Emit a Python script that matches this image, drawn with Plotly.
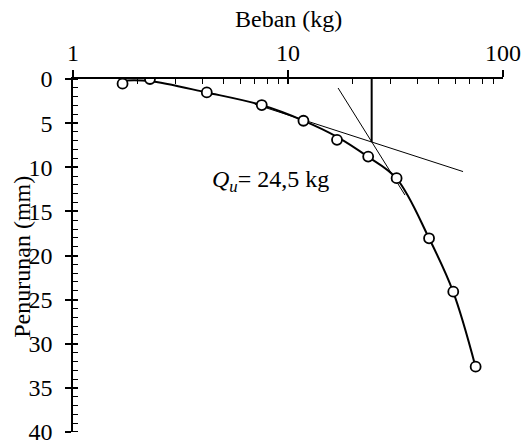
import plotly.graph_objects as go

# Load test readings: load (kg) and settlement (mm)
load_kg = [1.70, 2.28, 4.19, 7.55, 11.8, 16.9, 23.6, 32.0, 45.3, 58.7, 74.6]
settlement_mm = [0.53, 0.0, 1.52, 2.95, 4.73, 6.89, 8.79, 11.24, 18.05, 24.1, 32.6]

# Fitted load-settlement trend
trend_load = [1.77, 2.27, 4.17, 7.51, 11.7, 16.9, 23.5, 31.9, 45.3, 58.6, 74.5]
trend_settle = [0.16, 0.23, 1.52, 2.95, 4.68, 6.55, 8.79, 11.24, 18.05, 24.1, 32.6]

# Tangent to the initial branch and tangent to the failure branch
tan1_load = [7.0, 65.2]
tan1_settle = [2.85, 10.49]
tan2_load = [17.1, 35.0]
tan2_settle = [1.02, 13.15]

# Ultimate load from the tangent intersection
qu_load = 24.5
qu_settle = 7.15

x_major = [1, 10, 100]
x_major_text = ["1", "10", "100"]
x_minor = [2, 3, 4, 5, 6, 7, 8, 9, 20, 30, 40, 50, 60, 70, 80, 90]
y_major = [0, 5, 10, 15, 20, 25, 30, 35, 40]

FONT = "Liberation Serif, Times New Roman, Times, serif"
BLACK = "#000000"

fig = go.Figure()

fig.add_trace(go.Scatter(
    x=trend_load, y=trend_settle, mode="lines",
    line=dict(color=BLACK, width=2, shape="spline", smoothing=1.0),
    hoverinfo="skip", showlegend=False,
))
fig.add_trace(go.Scatter(
    x=tan1_load, y=tan1_settle, mode="lines",
    line=dict(color=BLACK, width=1), showlegend=False,
))
fig.add_trace(go.Scatter(
    x=tan2_load, y=tan2_settle, mode="lines",
    line=dict(color=BLACK, width=1), showlegend=False,
))
fig.add_trace(go.Scatter(
    x=[qu_load, qu_load], y=[0, qu_settle], mode="lines",
    line=dict(color=BLACK, width=2), showlegend=False,
))
fig.add_trace(go.Scatter(
    x=load_kg, y=settlement_mm, mode="markers",
    marker=dict(symbol="circle", size=10, color="white",
                line=dict(color=BLACK, width=1.8)),
    showlegend=False,
))
# Invisible point so the overlay axes (inner half of major ticks) are drawn
fig.add_trace(go.Scatter(x=[1], y=[0], xaxis="x2", yaxis="y2", mode="markers",
                         marker=dict(opacity=0), hoverinfo="skip",
                         showlegend=False))

axis_font = dict(family=FONT, size=24, color=BLACK)

fig.update_layout(
    width=524, height=444,
    margin=dict(l=73, r=21, t=79, b=12, autoexpand=False),
    paper_bgcolor="white", plot_bgcolor="white",
    font=axis_font,
    showlegend=False,
    xaxis=dict(
        type="log", range=[0, 2], side="top", automargin=False,
        showline=True, linecolor=BLACK, linewidth=1.5,
        showgrid=False, zeroline=False,
        tickmode="array", tickvals=x_major, ticktext=x_major_text,
        ticks="outside", ticklen=7, tickwidth=1.5, tickcolor=BLACK,
        ticklabelstandoff=0, ticklabeloverflow="allow",
        minor=dict(tickvals=x_minor, ticks="inside", ticklen=5,
                   tickwidth=1.2, tickcolor=BLACK, showgrid=False),
        tickfont=axis_font,
    ),
    yaxis=dict(
        range=[40.001, 0], automargin=False,
        showline=True, linecolor=BLACK, linewidth=1.5,
        showgrid=False, zeroline=False,
        tickmode="array", tickvals=y_major,
        ticks="outside", ticklen=6, tickwidth=1.5, tickcolor=BLACK,
        ticklabelstandoff=8, ticklabeloverflow="allow",
        minor=dict(dtick=1, ticks="inside", ticklen=5,
                   tickwidth=1.2, tickcolor=BLACK, showgrid=False),
        tickfont=axis_font,
    ),
    xaxis2=dict(
        type="log", range=[0, 2], overlaying="x", side="top", automargin=False,
        showline=False, showgrid=False, zeroline=False,
        tickmode="array", tickvals=x_major, showticklabels=False,
        ticks="inside", ticklen=5, tickwidth=1.5, tickcolor=BLACK,
    ),
    yaxis2=dict(
        range=[40.001, 0], overlaying="y", side="left", automargin=False,
        showline=False, showgrid=False, zeroline=False,
        tickmode="array", tickvals=y_major, showticklabels=False,
        ticks="inside", ticklen=5, tickwidth=1.5, tickcolor=BLACK,
    ),
    annotations=[
        dict(text="Beban (kg)", xref="paper", yref="paper",
             x=0.501, y=1.171, xanchor="center", yanchor="middle",
             showarrow=False, font=axis_font),
        dict(text="Penurunan (mm)", xref="paper", yref="paper",
             x=-0.119, y=0.496, xanchor="center", yanchor="middle",
             textangle=-90, showarrow=False, font=axis_font),
        dict(text="<i>Q<sub>u</sub></i>= 24,5 kg", xref="paper", yref="paper",
             x=0.319, y=0.71, xanchor="left", yanchor="middle",
             showarrow=False, font=axis_font),
    ],
)

fig.write_html("out.html")
